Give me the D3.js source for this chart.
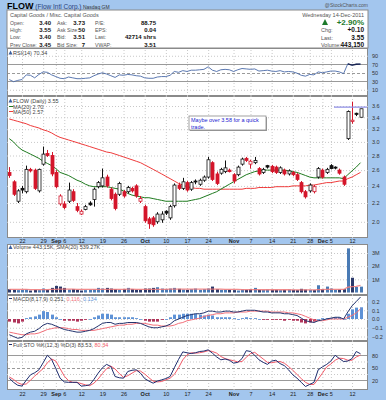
<!DOCTYPE html>
<html>
<head>
<meta charset="utf-8">
<style>
body { margin: 0; background: #fff; }
svg { display: block; }
</style>
</head>
<body>
<svg width="386" height="400"></svg>
<script src="https://d3js.org/d3.v7.min.js"></script>
<script>

// daily bars, Aug 17 .. Dec 14 2011 (84 trading days)
var open = [2.57,2.45,2.22,2.37,2.33,2.61,2.60,2.34,2.68,2.83,
  2.80,2.57,2.19,2.19,2.22,2.33,2.16,2.08,2.13,2.20,
  2.24,2.39,2.40,2.51,2.36,2.30,2.30,2.33,2.33,2.37,
  2.40,2.22,2.16,2.03,2.04,2.00,2.02,2.11,2.04,2.17,
  2.41,2.37,2.44,2.36,2.46,2.42,2.47,2.51,2.70,2.55,
  2.56,2.58,2.60,2.54,2.54,2.68,2.76,2.68,2.70,2.62,
  2.57,2.66,2.65,2.64,2.57,2.60,2.55,2.57,2.54,2.44,
  2.33,2.34,2.33,2.51,2.60,2.57,2.66,2.64,2.60,2.51,
  3.05,3.33,3.47,3.40];
var high = [2.64,2.47,2.36,2.40,2.66,2.63,2.62,2.62,2.93,2.88,
  2.85,2.60,2.30,2.22,2.44,2.36,2.20,2.13,2.18,2.22,
  2.38,2.46,2.62,2.54,2.38,2.32,2.45,2.35,2.40,2.39,
  2.42,2.28,2.18,2.05,2.06,2.10,2.11,2.12,2.18,2.43,
  2.44,2.50,2.46,2.46,2.48,2.49,2.53,2.78,2.72,2.58,
  2.63,2.73,2.62,2.56,2.66,2.77,2.78,2.74,2.78,2.64,
  2.63,2.67,2.67,2.66,2.65,2.62,2.61,2.59,2.56,2.46,
  2.35,2.43,2.41,2.64,2.62,2.63,2.68,2.65,2.62,2.53,
  3.52,3.68,3.48,3.55];
var low = [2.50,2.28,2.20,2.31,2.31,2.57,2.35,2.32,2.66,2.78,
  2.52,2.37,2.17,2.13,2.20,2.21,2.10,2.07,2.12,2.17,
  2.16,2.37,2.38,2.38,2.23,2.12,2.28,2.26,2.31,2.32,
  2.26,2.20,1.99,1.93,1.95,1.98,1.99,2.07,2.02,2.15,
  2.35,2.35,2.33,2.34,2.42,2.40,2.45,2.49,2.46,2.41,
  2.54,2.56,2.57,2.43,2.52,2.66,2.71,2.62,2.68,2.53,
  2.55,2.62,2.56,2.55,2.55,2.53,2.53,2.52,2.46,2.31,
  2.25,2.32,2.31,2.49,2.49,2.55,2.61,2.61,2.54,2.40,
  3.03,3.29,3.42,3.40];
var close = [2.53,2.30,2.34,2.35,2.61,2.59,2.37,2.61,2.82,2.80,
  2.55,2.39,2.28,2.15,2.35,2.23,2.12,2.11,2.16,2.18,
  2.36,2.44,2.50,2.40,2.25,2.14,2.43,2.28,2.38,2.34,
  2.28,2.25,2.01,1.98,1.97,2.08,2.08,2.09,2.16,2.41,
  2.37,2.45,2.35,2.44,2.45,2.47,2.51,2.74,2.48,2.43,
  2.61,2.63,2.58,2.46,2.64,2.75,2.73,2.72,2.73,2.55,
  2.61,2.64,2.58,2.57,2.63,2.55,2.59,2.54,2.48,2.33,
  2.27,2.41,2.39,2.62,2.51,2.61,2.62,2.63,2.56,2.42,
  3.50,3.35,3.45,3.55];
var ma20 = [3.05,3.00,2.93,2.88,2.85,2.82,2.79,2.76,2.72,2.69,
  2.66,2.62,2.57,2.55,2.53,2.50,2.47,2.45,2.42,2.40,
  2.39,2.39,2.39,2.39,2.38,2.37,2.36,2.34,2.31,2.29,
  2.28,2.27,2.26,2.26,2.25,2.24,2.23,2.22,2.22,2.22,
  2.22,2.22,2.22,2.23,2.24,2.25,2.27,2.29,2.31,2.33,
  2.36,2.39,2.42,2.45,2.48,2.51,2.54,2.56,2.58,2.59,
  2.60,2.60,2.60,2.60,2.60,2.60,2.59,2.58,2.57,2.55,
  2.53,2.51,2.50,2.50,2.50,2.50,2.50,2.50,2.50,2.49,
  2.54,2.59,2.64,2.70];
var ma50 = [3.37,3.35,3.33,3.31,3.29,3.26,3.24,3.22,3.19,3.17,
  3.14,3.10,3.07,3.05,3.03,3.01,2.99,2.97,2.95,2.93,
  2.91,2.89,2.87,2.85,2.84,2.82,2.80,2.78,2.76,2.74,
  2.72,2.70,2.67,2.64,2.61,2.58,2.55,2.52,2.49,2.46,
  2.43,2.41,2.39,2.38,2.37,2.37,2.36,2.36,2.36,2.36,
  2.36,2.36,2.36,2.36,2.36,2.36,2.37,2.37,2.37,2.38,
  2.38,2.38,2.38,2.39,2.39,2.39,2.39,2.40,2.40,2.40,
  2.40,2.41,2.41,2.42,2.43,2.44,2.44,2.45,2.46,2.46,
  2.49,2.51,2.54,2.57];
var volume = [0.25,0.20,0.18,0.20,0.22,0.15,0.20,0.18,0.30,0.20,
  0.35,0.50,0.45,0.35,0.22,0.25,0.20,0.15,0.18,0.20,
  0.22,0.35,0.30,0.35,0.30,0.25,0.20,0.25,0.35,0.25,
  0.20,0.20,0.30,0.30,0.35,0.40,0.30,0.25,0.30,0.35,
  0.28,0.22,0.20,0.25,0.30,0.20,0.25,0.30,0.45,0.25,
  0.20,0.20,0.20,0.18,0.15,0.22,0.20,0.25,0.35,0.20,
  0.20,0.22,0.20,0.20,0.18,0.20,0.22,0.20,0.18,0.28,
  0.22,0.20,0.18,0.55,0.25,0.45,0.30,0.20,0.22,0.25,
  3.35,1.12,0.42,0.443];
var volSma = [0.24,0.24,0.23,0.23,0.23,0.22,0.22,0.22,0.22,0.22,
  0.23,0.24,0.25,0.25,0.25,0.25,0.24,0.24,0.23,0.23,
  0.23,0.23,0.24,0.24,0.24,0.24,0.24,0.24,0.25,0.25,
  0.24,0.24,0.24,0.23,0.23,0.24,0.24,0.24,0.25,0.25,
  0.25,0.25,0.25,0.25,0.25,0.25,0.25,0.25,0.26,0.25,
  0.25,0.24,0.24,0.23,0.23,0.22,0.22,0.22,0.22,0.22,
  0.21,0.21,0.21,0.21,0.21,0.21,0.21,0.20,0.20,0.20,
  0.20,0.20,0.20,0.22,0.22,0.23,0.23,0.23,0.23,0.23,
  0.40,0.45,0.47,0.54];
var rsi = [34,29,32,34,45,44,38,46,52,51,
  45,41,37,36,40,38,36,36,37,38,
  43,47,50,47,43,39,45,44,46,45,
  43,42,38,37,37,40,41,41,44,53,
  51,55,53,56,56,57,58,64,56,53,
  57,58,57,53,57,60,59,58,59,54,
  55,56,54,53,55,52,53,52,49,44,
  42,46,45,52,50,52,54,54,52,48,
  71,68,70,70.34];
var macd = [-0.18,-0.20,-0.22,-0.21,-0.17,-0.15,-0.14,-0.11,-0.07,-0.05,
  -0.06,-0.08,-0.10,-0.12,-0.13,-0.14,-0.15,-0.15,-0.14,-0.13,
  -0.11,-0.08,-0.05,-0.04,-0.04,-0.06,-0.05,-0.05,-0.04,-0.04,
  -0.04,-0.05,-0.07,-0.09,-0.10,-0.10,-0.09,-0.08,-0.06,-0.02,
  0.00,0.02,0.04,0.05,0.06,0.06,0.07,0.09,0.09,0.08,
  0.08,0.09,0.09,0.08,0.08,0.09,0.10,0.10,0.10,0.09,
  0.08,0.08,0.07,0.07,0.07,0.06,0.06,0.05,0.04,0.01,
  -0.02,-0.03,-0.04,-0.02,-0.01,0.00,0.01,0.02,0.02,0.00,
  0.08,0.15,0.20,0.251];
var signal = [-0.15,-0.16,-0.17,-0.18,-0.18,-0.17,-0.17,-0.16,-0.14,-0.12,
  -0.11,-0.10,-0.10,-0.10,-0.11,-0.12,-0.12,-0.13,-0.13,-0.13,
  -0.13,-0.12,-0.11,-0.10,-0.09,-0.08,-0.07,-0.07,-0.06,-0.06,
  -0.05,-0.05,-0.05,-0.06,-0.07,-0.07,-0.08,-0.08,-0.08,-0.07,
  -0.05,-0.04,-0.02,-0.01,0.00,0.01,0.03,0.04,0.05,0.06,
  0.06,0.07,0.07,0.07,0.08,0.08,0.08,0.09,0.09,0.09,
  0.09,0.09,0.08,0.08,0.08,0.08,0.07,0.07,0.06,0.05,
  0.03,0.01,-0.01,-0.02,-0.02,-0.01,0.00,0.00,0.00,0.00,
  0.02,0.04,0.07,0.116];
var hist = [-0.03,-0.04,-0.05,-0.03,0.01,0.02,0.03,0.05,0.09,0.08,
  0.05,0.02,0.00,-0.02,-0.02,-0.02,-0.03,-0.02,-0.01,0.00,
  0.02,0.04,0.06,0.06,0.05,0.02,0.02,0.02,0.02,0.02,
  0.01,0.00,-0.02,-0.03,-0.03,-0.03,-0.01,0.00,0.02,0.05,
  0.05,0.06,0.06,0.06,0.06,0.05,0.04,0.05,0.04,0.02,
  0.02,0.02,0.02,0.01,0.00,0.01,0.02,0.01,0.01,0.00,
  -0.01,-0.01,-0.01,-0.01,-0.01,-0.02,-0.01,-0.02,-0.02,-0.04,
  -0.05,-0.04,-0.03,0.00,0.01,0.01,0.01,0.02,0.02,0.00,
  0.06,0.11,0.13,0.134];
var stoK = [25,15,8,6,20,33,38,45,62,80,
  70,48,25,16,15,15,15,6,7,9,
  22,37,50,58,53,29,26,25,41,44,
  45,37,24,18,13,18,21,24,29,50,
  70,88,86,84,86,89,90,93,85,76,
  69,71,68,61,63,72,91,89,80,69,
  63,58,66,68,60,55,45,33,25,15,
  5,10,15,45,52,58,66,80,72,65,
  66,72,89,83.53];
var stoD = [28,22,14,10,11,20,30,39,48,62,
  71,66,48,30,19,15,15,12,9,7,
  13,23,36,48,54,47,36,27,31,37,
  43,42,35,26,18,16,17,21,25,34,
  50,69,81,86,85,86,88,91,89,85,
  77,72,69,67,64,65,75,84,87,79,
  71,63,62,64,65,61,53,44,34,24,
  15,10,10,23,37,52,59,68,73,72,
  68,68,76,80.34];

var tickIdx = [3,8,11,13,17,22,27,32,37,42,47,53,57,62,67,71,74,76,81];
var tickLabels = ["22","29","Sep","6","12","19","26","Oct","10","17","24","Nov","7","14","21","28","Dec","5","12"];
var months = ["Sep","Oct","Nov","Dec"];

var priceTicks = [2.0,2.2,2.4,2.6,2.8,3.0,3.2,3.4,3.6];
var rsiTicks = [10,30,50,70,90];
var volTicks = [1,2,3];
var macdTicks = [-0.2,-0.1,0,0.1,0.2];
var stoTicks = [20,50,80];

var FONT = "'Liberation Sans', Arial, sans-serif";
var BLUE = "#a3c6ee";
var svg = d3.select("svg").attr("font-family", FONT);
var L = 7, R = 368;

var pRsi = {top: 48, bottom: 96},
    pPrice = {top: 96, bottom: 238},
    pVol = {top: 244, bottom: 295},
    pMacd = {top: 295, bottom: 341},
    pSto = {top: 341, bottom: 390};

var x = d3.scaleLinear().domain([0, 83]).range([9.3, 360.5]);
var yP = d3.scaleLog().domain([2.0, 3.6]).range([221.8, 106]);
var yR = d3.scaleLinear().domain([0, 100]).range([94, 51.5]);
var yV = d3.scaleLinear().domain([0, 3]).range([292.5, 253]);
var yM = d3.scaleLinear().domain([-0.2, 0.2]).range([336.5, 301.5]);
var yS = d3.scaleLinear().domain([0, 100]).range([388.6, 346.9]);

svg.append("rect").attr("width", 386).attr("height", 400).attr("fill", BLUE);

// ---- header
svg.append("rect").attr("x", L).attr("y", 10).attr("width", R - L).attr("height", 38)
    .attr("fill", "#fff").attr("stroke", "#8a8a8a");
var t = svg.append("text").attr("x", 7).attr("y", 8.5);
t.append("tspan").attr("font-size", 9).attr("font-weight", "bold").text("FLOW");
t.append("tspan").attr("font-size", 6.5).attr("fill", "#2b3f7a").text(" (Flow Intl Corp.)");
t.append("tspan").attr("font-size", 5).attr("fill", "#333").text("  Nasdaq GM");
svg.append("text").attr("x", R).attr("y", 7).attr("text-anchor", "end")
    .attr("font-size", 5).attr("fill", "#555").text("@StockCharts.com");

svg.append("text").attr("x", 10).attr("y", 16.5).attr("font-size", 5.5).attr("fill", "#555")
    .text("Capital Goods / Misc. Capital Goods");

var hdr = [
  ["Open:", "3.40", "Ask:", "3.73", "P/E:", "88.75"],
  ["High:", "3.55", "Ask Size:", "50", "EPS:", "0.04"],
  ["Low:", "3.40", "Bid:", "3.51", "Last:", "42714 shrs"],
  ["Prev Close:", "3.45", "Bid Size:", "7", "VWAP:", "3.51"]
];
var colX = [10, 51, 57, 85, 95, 156];
hdr.forEach(function(row, r) {
  row.forEach(function(s, c) {
    svg.append("text").attr("x", colX[c]).attr("y", 24.5 + r * 7.4)
        .attr("font-size", c % 2 ? 6 : 5.2)
        .attr("font-weight", c % 2 ? "bold" : "normal")
        .attr("fill", c % 2 ? "#111" : "#555")
        .attr("text-anchor", c % 2 ? "end" : "start")
        .text(s);
  });
});

svg.append("text").attr("x", 364).attr("y", 16.5).attr("text-anchor", "end")
    .attr("font-size", 5.5).attr("fill", "#555").text("Wednesday  14-Dec-2011");
svg.append("path").attr("d", "M322,25L325,19L328,25Z").attr("fill", "#1d7a2a");
svg.append("text").attr("x", 364).attr("y", 25).attr("text-anchor", "end")
    .attr("font-size", 8).attr("font-weight", "bold").attr("fill", "#1d7a2a").text("+2.90%");
[["Chg:", "+0.10", 32.2], ["Last:", "3.55", 39.6], ["Volume:", "443,150", 47]].forEach(function(r) {
  svg.append("text").attr("x", 321).attr("y", r[2]).attr("font-size", 5.5).attr("fill", "#555").text(r[0]);
  svg.append("text").attr("x", 364).attr("y", r[2]).attr("text-anchor", "end")
      .attr("font-size", 6.5).attr("font-weight", "bold").attr("fill", "#111").text(r[1]);
});

// ---- panel helpers
function panel(p, y, ticks) {
  svg.append("rect").attr("x", L + 0.5).attr("y", p.top + 0.5)
      .attr("width", R - L - 1).attr("height", p.bottom - p.top - 1)
      .attr("fill", "#fff").attr("stroke", "#8a8a8a");
  var v = svg.append("g").attr("transform", "translate(0," + p.bottom + ")")
      .call(d3.axisBottom(x).tickValues(tickIdx).tickSize(-(p.bottom - p.top)).tickFormat(""));
  v.select(".domain").remove();
  v.selectAll("line").attr("stroke", "#c8c8c8").attr("stroke-dasharray", "1,2");
  var h = svg.append("g").attr("transform", "translate(" + L + ",0)")
      .call(d3.axisLeft(y).tickValues(ticks).tickSize(-(R - L)).tickFormat(""));
  h.select(".domain").remove();
  h.selectAll("line").attr("stroke", "#c8c8c8").attr("stroke-dasharray", "1,2");
  var clip = "c" + p.top;
  svg.append("clipPath").attr("id", clip).append("rect")
      .attr("x", L + 1).attr("y", p.top + 1).attr("width", R - L - 2).attr("height", p.bottom - p.top - 2);
  return svg.append("g").attr("clip-path", "url(#" + clip + ")");
}

function rightAxis(y, ticks, fmt) {
  var a = svg.append("g").attr("transform", "translate(" + R + ",0)")
      .call(d3.axisRight(y).tickValues(ticks).tickFormat(fmt).tickSize(0).tickPadding(4));
  a.select(".domain").remove();
  a.attr("font-size", 5.5).attr("font-family", FONT);
  a.selectAll("text").attr("fill", "#333");
}

function refLine(g, y, v, dash) {
  g.append("line").attr("x1", L).attr("x2", R).attr("y1", Math.round(y(v)) + 0.5).attr("y2", Math.round(y(v)) + 0.5)
      .attr("stroke", "#9a9a9a").attr("stroke-width", 1).attr("stroke-dasharray", dash || null);
}

function label(p, parts, dy) {
  var t = svg.append("text").attr("x", 13).attr("y", p.top + (dy || 6)).attr("font-size", 5.5).attr("fill", "#444");
  parts.forEach(function(s) { t.append("tspan").attr("fill", s[1] || "#444").text(s[0]); });
  return t;
}

function icon(p, dy) {
  svg.append("path").attr("d", "M8.5," + (p.top + (dy || 6)) + "l2,-4l2,4z").attr("fill", "#3a5fa0");
}

function dateStrip(y0) {
  var a = svg.append("g").attr("transform", "translate(0," + y0 + ")")
      .call(d3.axisBottom(x).tickValues(tickIdx).tickSize(0).tickPadding(1)
        .tickFormat(function(d, i) { return tickLabels[i]; }));
  a.select(".domain").remove();
  a.attr("font-size", 5.5).attr("font-family", FONT);
  a.selectAll("text").attr("fill", "#222")
      .attr("font-weight", function(d, i) { return months.indexOf(tickLabels[i]) >= 0 ? "bold" : "normal"; });
}

function line(y, arr) {
  return d3.line().x(function(d, i) { return x(i); }).y(function(d) { return y(d); })(arr);
}

// ---- RSI
var gR = panel(pRsi, yR, [10, 90]);
refLine(gR, yR, 70); refLine(gR, yR, 30); refLine(gR, yR, 50, "3,2");
gR.append("path").attr("d", line(yR, rsi)).attr("fill", "none").attr("stroke", "#4a6aa8").attr("stroke-width", 0.9);
gR.append("path").attr("d", line(yR, rsi.slice(80)))
    .attr("transform", "translate(" + (x(80) - x(0)) + ",0)")
    .attr("fill", "none").attr("stroke", "#1a2450").attr("stroke-width", 1.3);
rightAxis(yR, rsiTicks, d3.format("d"));
icon(pRsi, 6.5);
label(pRsi, [["RSI(14) 70.34"]], 6.5);

// ---- price
var gP = panel(pPrice, yP, priceTicks);
gP.append("path").attr("d", line(yP, ma50)).attr("fill", "none").attr("stroke", "#ef3b3b").attr("stroke-width", 1);
gP.append("path").attr("d", line(yP, ma20)).attr("fill", "none").attr("stroke", "#1f7a1f").attr("stroke-width", 1);

var bars = close.map(function(c, i) {
  var prev = i ? close[i - 1] : 2.60;
  return {i: i, o: open[i], h: high[i], l: low[i], c: c,
          col: c < prev ? "#d4162b" : "#111", hollow: c >= open[i]};
});
var cg = gP.selectAll(".candle").data(bars).enter().append("g").attr("class", "candle");
cg.append("line")
    .attr("x1", function(d) { return Math.round(x(d.i)) + 0.5; })
    .attr("x2", function(d) { return Math.round(x(d.i)) + 0.5; })
    .attr("y1", function(d) { return yP(d.h); })
    .attr("y2", function(d) { return yP(d.l); })
    .attr("stroke", function(d) { return d.col; }).attr("stroke-width", 1);
cg.append("rect")
    .attr("x", function(d) { return Math.round(x(d.i)) - 1; })
    .attr("width", 3)
    .attr("y", function(d) { return yP(Math.max(d.o, d.c)); })
    .attr("height", function(d) { return Math.max(1, yP(Math.min(d.o, d.c)) - yP(Math.max(d.o, d.c))); })
    .attr("fill", function(d) { return d.hollow ? "#fff" : d.col; })
    .attr("stroke", function(d) { return d.col; }).attr("stroke-width", 0.8);

// target line and note
gP.append("line").attr("x1", 334).attr("x2", R).attr("y1", yP(3.58)).attr("y2", yP(3.58))
    .attr("stroke", "#8f8fe6").attr("stroke-width", 1.2);
svg.append("rect").attr("x", 190).attr("y", 117).attr("width", 77).attr("height", 14).attr("fill", "#999");
svg.append("rect").attr("x", 189).attr("y", 116).attr("width", 77).attr("height", 14)
    .attr("fill", "#fff").attr("stroke", "#8a8a8a").attr("stroke-width", 0.8);
svg.append("text").attr("x", 191).attr("y", 122).attr("font-size", 5.5).attr("fill", "#1b1bd0")
    .text("Maybe over 3.58 for a quick");
svg.append("text").attr("x", 191).attr("y", 128.5).attr("font-size", 5.5).attr("fill", "#1b1bd0").text("trade.");

rightAxis(yP, priceTicks, d3.format(".1f"));
icon(pPrice, 6.5);
label(pPrice, [["FLOW (Daily) 3.55"]], 6.5);
svg.append("line").attr("x1", 9).attr("x2", 13).attr("y1", pPrice.top + 10.5).attr("y2", pPrice.top + 10.5).attr("stroke", "#1f7a1f");
label(pPrice, [["MA(20) 2.70"]], 12.5);
svg.append("line").attr("x1", 9).attr("x2", 13).attr("y1", pPrice.top + 15.5).attr("y2", pPrice.top + 15.5).attr("stroke", "#ef3b3b");
label(pPrice, [["MA(50) 2.57"]], 17.5);

// ---- date strip between price and volume
svg.append("rect").attr("x", L).attr("y", 238).attr("width", R - L).attr("height", 6).attr("fill", BLUE);
dateStrip(238);

// ---- volume
var gV = panel(pVol, yV, volTicks);
gV.selectAll(".vb").data(volume).enter().append("rect").attr("class", "vb")
    .attr("x", function(d, i) { return Math.round(x(i)) - 1; })
    .attr("width", 3)
    .attr("y", function(d) { return yV(d); })
    .attr("height", function(d) { return yV(0) - yV(d); })
    .attr("fill", function(d, i) { return bars[i].col === "#111" ? "#4a7bb5" : "#2c3a6b"; });
gV.append("path").attr("d", line(yV, volSma)).attr("fill", "none")
    .attr("stroke", "#f07878").attr("stroke-width", 1.3).attr("opacity", 0.85);
rightAxis(yV, volTicks, function(d) { return d + "M"; });
icon(pVol, 5);
label(pVol, [["Volume 443.15K, SMA(20) 539.27K"]], 5);

// ---- MACD
var gM = panel(pMacd, yM, macdTicks);
gM.selectAll(".hb").data(hist).enter().append("rect").attr("class", "hb")
    .attr("x", function(d, i) { return Math.round(x(i)) - 1; })
    .attr("width", 3)
    .attr("y", function(d) { return Math.min(yM(d), yM(0)); })
    .attr("height", function(d) { return Math.max(0.8, Math.abs(yM(d) - yM(0))); })
    .attr("fill", function(d) { return d < 0 ? "#b0345a" : "#5e92d6"; });
gM.append("path").attr("d", line(yM, signal)).attr("fill", "none").attr("stroke", "#f2707a").attr("stroke-width", 1);
gM.append("path").attr("d", line(yM, macd)).attr("fill", "none").attr("stroke", "#24346e").attr("stroke-width", 1);
rightAxis(yM, macdTicks, d3.format(".1f"));
svg.append("line").attr("x1", 9).attr("x2", 12).attr("y1", pMacd.top + 3.5).attr("y2", pMacd.top + 3.5).attr("stroke", "#24346e");
label(pMacd, [["MACD(8,17,9) 0.251, "], ["0.116", "#f2707a"], [", "], ["0.134", "#5e92d6"]], 5.5);

// ---- slow stochastic
var gS = panel(pSto, yS, [35, 65]);
refLine(gS, yS, 80); refLine(gS, yS, 20); refLine(gS, yS, 50, "3,2");
gS.append("path").attr("d", line(yS, stoD)).attr("fill", "none").attr("stroke", "#f25a68").attr("stroke-width", 1);
gS.append("path").attr("d", line(yS, stoK)).attr("fill", "none").attr("stroke", "#1e2c6e").attr("stroke-width", 1);
rightAxis(yS, stoTicks, d3.format("d"));
svg.append("line").attr("x1", 9).attr("x2", 12).attr("y1", pSto.top + 3.5).attr("y2", pSto.top + 3.5).attr("stroke", "#1e2c6e");
label(pSto, [["Full STO %K(12,3) %D(3) 83.53, "], ["80.34", "#f25a68"]], 5.5);

dateStrip(391);

</script>
</body>
</html>
